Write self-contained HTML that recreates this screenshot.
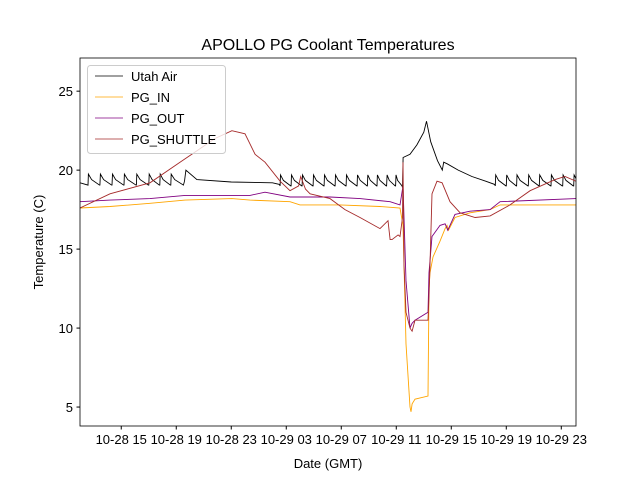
<!DOCTYPE html>
<html><head><meta charset="utf-8"><style>
body{margin:0;background:#fff;}
svg text{font-family:"Liberation Sans","DejaVu Sans",sans-serif;}
</style></head><body>
<svg id="chart" width="640" height="480" viewBox="0 0 640 480" xmlns="http://www.w3.org/2000/svg">
<rect width="640" height="480" fill="#fff"/>
<text x="328" y="50" font-size="16" text-anchor="middle">APOLLO PG Coolant Temperatures</text>
<g id="plot"></g>
<g id="axes"></g>
<text x="328" y="468" font-size="13" text-anchor="middle">Date (GMT)</text>
<text x="0" y="0" font-size="13" text-anchor="middle" transform="translate(43,242) rotate(-90)">Temperature (C)</text>
<g>
<rect x="87.5" y="65.5" width="138" height="88" rx="3" fill="#fff" fill-opacity="0.8" stroke="#ccc"/>
<line x1="95" y1="76" x2="123" y2="76" stroke="#000" stroke-width="0.8"/>
<text x="131" y="81" font-size="13">Utah Air</text>
<line x1="95" y1="97" x2="123" y2="97" stroke="#ffa500" stroke-width="0.8"/>
<text x="131" y="102" font-size="13">PG_IN</text>
<line x1="95" y1="118" x2="123" y2="118" stroke="#800080" stroke-width="0.8"/>
<text x="131" y="123" font-size="13">PG_OUT</text>
<line x1="95" y1="139" x2="123" y2="139" stroke="#a52a2a" stroke-width="0.8"/>
<text x="131" y="144" font-size="13">PG_SHUTTLE</text>
</g>
</svg>
<script>
// hours since 10-28 00:00
const xTickHours = [15,19,23,27,31,35,39,43,47];
const xTickLabels = ["10-28 15","10-28 19","10-28 23","10-29 03","10-29 07","10-29 11","10-29 15","10-29 19","10-29 23"];
const yTickValues = [5,10,15,20,25];
const airSpikeTimes = [12.58,13.45,14.33,15.2,16.1,17.0,17.8,18.6,26.55,27.35,28.15,28.95,29.75,30.55,31.35,32.15,32.9,33.6,34.3,34.95];
const airSpikeTimes2 = [42.2,43.0,43.75,44.6,45.4,46.25,47.1,47.9];
const airFlatTimes = [12.0,19.6,19.7,20.5,23.0,26.0,26.5];
const airFlatValues = [19.2,19.3,20.0,19.4,19.25,19.2,19.1];
const airEventTimes = [35.45,35.5,36.0,36.5,37.0,37.2,37.5,38.0,38.35,38.45,38.7,39.5,40.5,41.5,42.15];
const airEventValues = [18.9,20.8,21.0,21.6,22.4,23.1,21.8,20.6,20.0,20.5,20.4,20.0,19.6,19.3,19.1];
const inTimes = [12,14.18,17.09,19.64,23.05,24.36,27.27,28.0,30.91,33.82,35.27,35.49,35.71,36.0,36.07,36.15,36.36,37.31,37.38,37.45,37.67,38.18,38.55,38.69,38.8,39.27,40.36,41.82,42.55,48.07];
const inValues = [17.6,17.7,17.9,18.1,18.2,18.1,18.0,17.8,17.8,17.7,17.6,16.5,9.0,5.0,4.7,5.2,5.5,5.7,12.5,13.5,14.5,15.5,16.3,16.5,16.2,17.0,17.3,17.5,17.8,17.8];
const outTimes = [12,14.18,17.09,19.64,24.36,25.45,27.27,30.18,32.36,34.55,35.27,35.49,35.71,36.0,36.15,36.36,37.31,37.38,37.6,38.18,38.55,38.75,39.27,40.36,41.82,42.55,48.07];
const outValues = [18.0,18.1,18.2,18.4,18.4,18.6,18.3,18.3,18.2,18.0,17.8,19.0,13.0,10.0,10.3,10.5,11.0,13.5,15.8,16.5,16.6,16.2,17.2,17.4,17.5,18.0,18.2];
const shuttleTimes = [12,14.18,17.09,19.27,21.82,23.05,24.0,24.73,25.45,26.55,27.27,27.9,28.05,28.4,28.73,30.18,31.27,32.36,33.82,34.4,34.55,34.69,35.13,35.27,35.45,35.49,35.56,35.71,36.0,36.15,36.36,37.31,37.38,37.45,37.6,37.96,38.33,38.91,39.64,40.73,41.82,43.27,44.73,46.55,47.27,48.07];
const shuttleValues = [17.6,18.5,19.2,20.5,22.0,22.5,22.3,21.0,20.5,19.3,18.7,19.0,19.6,18.8,18.5,18.2,17.5,17.0,16.3,16.8,15.6,15.6,15.9,15.8,17.0,20.5,14.0,11.0,10.0,9.8,10.5,10.5,12.0,14.0,18.5,19.3,19.2,18.0,17.3,17.0,17.1,17.8,18.7,19.4,19.6,19.3];

const L=80,R=576,T=58,B=426;
const X0=12,X1=48.07,Y0=3.8,Y1=27.1;
const sx=h=>L+(h-X0)/(X1-X0)*(R-L);
const sy=v=>B-(v-Y0)/(Y1-Y0)*(B-T);
const NS='http://www.w3.org/2000/svg';
const plot=document.getElementById('plot');
const axes=document.getElementById('axes');

function airSeries(){
  const pts=[[12,19.2]];
  const addTeeth=(times,lo,hi,endT)=>{
    times.forEach((t,i)=>{
      const nxt = i+1<times.length?times[i+1]:endT;
      pts.push([t,lo]); pts.push([t+0.03,hi]);
      pts.push([t+(nxt-t)*0.3,(lo+hi)/2]);
      pts.push([nxt-0.03,lo]);
    });
  };
  addTeeth(airSpikeTimes.slice(0,8),19.05,19.75,19.55);
  for(let i=1;i<airFlatTimes.length;i++) pts.push([airFlatTimes[i],airFlatValues[i]]);
  addTeeth(airSpikeTimes.slice(8),19.0,19.7,35.45);
  airEventTimes.forEach((t,i)=>pts.push([t,airEventValues[i]]));
  addTeeth(airSpikeTimes2,19.0,19.7,48.7);
  return pts;
}
function drawLine(pts,color,name){
  const p=document.createElementNS(NS,'polyline');
  p.setAttribute('points',pts.map(q=>sx(q[0]).toFixed(1)+','+sy(q[1]).toFixed(1)).join(' '));
  p.setAttribute('fill','none');
  p.setAttribute('stroke',color);
  p.setAttribute('stroke-width','0.9');
  
  
  plot.appendChild(p);
}
const zip=(a,b)=>a.map((t,i)=>[t,b[i]]);
const clip=document.createElementNS(NS,'clipPath');clip.id='c';
const cr=document.createElementNS(NS,'rect');cr.setAttribute('x',L);cr.setAttribute('y',T);cr.setAttribute('width',R-L);cr.setAttribute('height',B-T);
clip.appendChild(cr);document.getElementById('chart').appendChild(clip);
plot.setAttribute('clip-path','url(#c)');
drawLine(airSeries(),'#000','series-utah-air');
drawLine(zip(inTimes,inValues),'#ffa500','series-pg-in');
drawLine(zip(outTimes,outValues),'#800080','series-pg-out');
drawLine(zip(shuttleTimes,shuttleValues),'#a52a2a','series-pg-shuttle');

const frame=document.createElementNS(NS,'rect');
frame.setAttribute('x',L);frame.setAttribute('y',T);frame.setAttribute('width',R-L);frame.setAttribute('height',B-T);
frame.setAttribute('fill','none');frame.setAttribute('stroke','#000');frame.setAttribute('stroke-width','0.8');


axes.appendChild(frame);
xTickHours.forEach((h,i)=>{
  const x=sx(h);
  const l=document.createElementNS(NS,'line');
  l.setAttribute('x1',x);l.setAttribute('x2',x);l.setAttribute('y1',B);l.setAttribute('y2',B+3.5);l.setAttribute('stroke','#000');
  
  
  axes.appendChild(l);
  const t=document.createElementNS(NS,'text');
  t.setAttribute('x',x);t.setAttribute('y',B+18);t.setAttribute('font-size','13');t.setAttribute('text-anchor','middle');
  t.textContent=xTickLabels[i];
  
  
  axes.appendChild(t);
});
yTickValues.forEach(v=>{
  const y=sy(v);
  const l=document.createElementNS(NS,'line');
  l.setAttribute('x1',L-3.5);l.setAttribute('x2',L);l.setAttribute('y1',y);l.setAttribute('y2',y);l.setAttribute('stroke','#000');
  
  
  axes.appendChild(l);
  const t=document.createElementNS(NS,'text');
  t.setAttribute('x',L-7);t.setAttribute('y',y+5);t.setAttribute('font-size','13');t.setAttribute('text-anchor','end');
  t.textContent=String(v);
  
  
  axes.appendChild(t);
});
</script>
</body></html>
